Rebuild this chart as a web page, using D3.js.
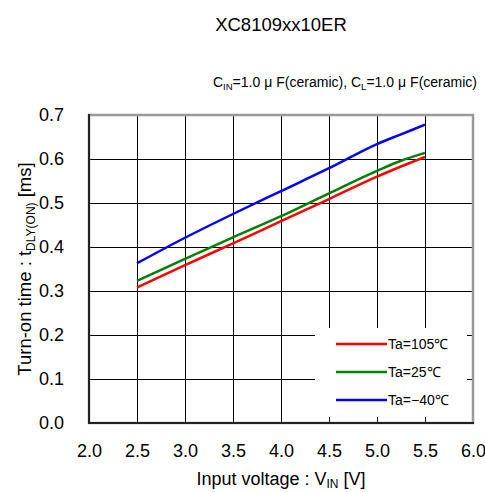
<!DOCTYPE html>
<html lang="en">
<head>
  <meta charset="UTF-8">
  <title>XC8109xx10ER Turn-on time</title>
  <script src="https://d3js.org/d3.v7.min.js"></script>
  <style>
    body {
      margin: 0;
      background: #fff;
      font-family: 'Liberation Sans', Arial, sans-serif;
    }
    svg text { fill: #000; }
  </style>
</head>
<body>
  <div id="chart"></div>
  <script>
    // values
    const vin = [2.5, 3.0, 3.5, 4.0, 4.5, 5.0, 5.25, 5.5];
    const ta105 = [0.308, 0.359, 0.408, 0.459, 0.509, 0.560, 0.583, 0.605];
    const ta25 = [0.323, 0.373, 0.422, 0.470, 0.522, 0.573, 0.596, 0.614];
    const taM40 = [0.363, 0.421, 0.475, 0.527, 0.579, 0.634, 0.656, 0.678];
    const seriesNames = ["Ta=105℃", "Ta=25℃", "Ta=−40℃"];
    const xTicks = [2.0, 2.5, 3.0, 3.5, 4.0, 4.5, 5.0, 5.5, 6.0];
    const yTicks = [0.0, 0.1, 0.2, 0.3, 0.4, 0.5, 0.6, 0.7];

    const W = 485, H = 492;
    const plot = { left: 89, right: 473, top: 115, bottom: 423 };

    const svg = d3.select("#chart").append("svg")
      .attr("width", W)
      .attr("height", H);

    const x = d3.scaleLinear().domain([2.0, 6.0]).range([plot.left, plot.right]);
    const y = d3.scaleLinear().domain([0.0, 0.7]).range([plot.bottom, plot.top]);

    // title + conditions
    svg.append("text")
      .attr("x", (plot.left + plot.right) / 2)
      .attr("y", 31)
      .attr("text-anchor", "middle")
      .style("font-size", "18.5px")
      .text("XC8109xx10ER");

    const cond = svg.append("text")
      .attr("x", 477)
      .attr("y", 87)
      .attr("text-anchor", "end")
      .style("font-size", "14px");
    cond.append("tspan").text("C");
    cond.append("tspan").attr("dy", 3).style("font-size", "9.5px").text("IN");
    cond.append("tspan").attr("dy", -3).text("=1.0");
    cond.append("tspan").attr("dx", 4).text("μ");
    cond.append("tspan").attr("dx", 4).text("F(ceramic), C");
    cond.append("tspan").attr("dy", 3).style("font-size", "9.5px").text("L");
    cond.append("tspan").attr("dy", -3).text("=1.0");
    cond.append("tspan").attr("dx", 4).text("μ");
    cond.append("tspan").attr("dx", 4).text("F(ceramic)");

    // grid
    const grid = svg.append("g").attr("stroke", "#000").attr("stroke-width", 1);
    grid.selectAll(".vg")
      .data(xTicks.slice(1, -1))
      .enter().append("line")
      .attr("x1", d => Math.round(x(d)) + 0.5)
      .attr("x2", d => Math.round(x(d)) + 0.5)
      .attr("y1", plot.top)
      .attr("y2", plot.bottom);
    grid.selectAll(".hg")
      .data(yTicks.slice(1, -1))
      .enter().append("line")
      .attr("y1", d => Math.round(y(d)) + 0.5)
      .attr("y2", d => Math.round(y(d)) + 0.5)
      .attr("x1", plot.left)
      .attr("x2", plot.right);

    // legend box hides the grid underneath
    const legend = svg.append("g");
    legend.append("rect")
      .attr("x", 315)
      .attr("y", 328)
      .attr("width", 153)
      .attr("height", 89)
      .attr("fill", "#fff");

    // inward ticks (visible only where the legend covers the grid)
    const ticks = svg.append("g").attr("stroke", "#000").attr("stroke-width", 1);
    ticks.selectAll(".bt")
      .data(xTicks.slice(1, -1))
      .enter().append("line")
      .attr("x1", d => Math.round(x(d)) + 0.5)
      .attr("x2", d => Math.round(x(d)) + 0.5)
      .attr("y1", plot.bottom - 6)
      .attr("y2", plot.bottom);
    ticks.selectAll(".rt")
      .data(yTicks.slice(1, -1))
      .enter().append("line")
      .attr("y1", d => Math.round(y(d)) + 0.5)
      .attr("y2", d => Math.round(y(d)) + 0.5)
      .attr("x1", plot.right - 6)
      .attr("x2", plot.right);

    // frame: grey plot border, dark axes left and bottom
    svg.append("rect")
      .attr("x", plot.left)
      .attr("y", plot.top)
      .attr("width", plot.right - plot.left)
      .attr("height", plot.bottom - plot.top)
      .attr("fill", "none")
      .attr("stroke", "#999")
      .attr("stroke-width", 2.5);
    svg.append("line")
      .attr("x1", plot.left).attr("x2", plot.left)
      .attr("y1", plot.top - 1).attr("y2", plot.bottom + 1)
      .attr("stroke", "#222").attr("stroke-width", 2);
    svg.append("line")
      .attr("x1", plot.left - 1).attr("x2", plot.right + 1)
      .attr("y1", plot.bottom).attr("y2", plot.bottom)
      .attr("stroke", "#222").attr("stroke-width", 2);

    // axes labels
    const xAxis = d3.axisBottom(x).tickValues(xTicks).tickSize(0).tickPadding(0)
      .tickFormat(d3.format(".1f"));
    const gx = svg.append("g")
      .attr("transform", `translate(0,${plot.bottom})`)
      .call(xAxis);
    gx.select(".domain").remove();
    gx.selectAll("text")
      .attr("y", 34)
      .attr("dy", null)
      .style("font-size", "18px")
      .style("font-family", "'Liberation Sans', Arial, sans-serif");

    const yAxis = d3.axisLeft(y).tickValues(yTicks).tickSize(0).tickPadding(0)
      .tickFormat(d3.format(".1f"));
    const gy = svg.append("g")
      .attr("transform", `translate(${plot.left},0)`)
      .call(yAxis);
    gy.select(".domain").remove();
    gy.selectAll("text")
      .attr("x", -25)
      .style("font-size", "18px")
      .style("font-family", "'Liberation Sans', Arial, sans-serif");

    // axis titles
    const xt = svg.append("text")
      .attr("x", (plot.left + plot.right) / 2)
      .attr("y", 485)
      .attr("text-anchor", "middle")
      .style("font-size", "18px");
    xt.append("tspan").text("Input voltage : V");
    xt.append("tspan").attr("dy", 3).style("font-size", "12px").text("IN");
    xt.append("tspan").attr("dy", -3).text(" [V]");

    const yt = svg.append("text")
      .attr("transform", `translate(31,${(plot.top + plot.bottom) / 2}) rotate(-90)`)
      .attr("text-anchor", "middle")
      .style("font-size", "18.5px");
    yt.append("tspan").text("Turn-on time : t");
    yt.append("tspan").attr("dy", 4).style("font-size", "12px").text("DLY(ON)");
    yt.append("tspan").attr("dy", -4).text(" [ms]");

    // series
    const series = [
      { name: seriesNames[0], values: ta105, color: "#ff0000" },
      { name: seriesNames[1], values: ta25, color: "#008000" },
      { name: seriesNames[2], values: taM40, color: "#0000ff" }
    ];

    const line = d3.line()
      .x((d, i) => x(vin[i]))
      .y(d => y(d))
      .curve(d3.curveMonotoneX);

    svg.selectAll(".series")
      .data(series)
      .enter().append("path")
      .attr("class", "series")
      .attr("fill", "none")
      .attr("stroke", d => d.color)
      .attr("stroke-width", 2.5)
      .attr("d", d => line(d.values));

    // legend items
    const items = legend.selectAll(".item")
      .data(series)
      .enter().append("g")
      .attr("class", "item")
      .attr("transform", (d, i) => `translate(0,${344 + i * 28})`);
    items.append("line")
      .attr("x1", 336).attr("x2", 387)
      .attr("stroke", d => d.color)
      .attr("stroke-width", 2.5);
    items.append("text")
      .attr("x", 388)
      .attr("y", 5)
      .style("font-size", "14px")
      .text(d => d.name);
  </script>
</body>
</html>
